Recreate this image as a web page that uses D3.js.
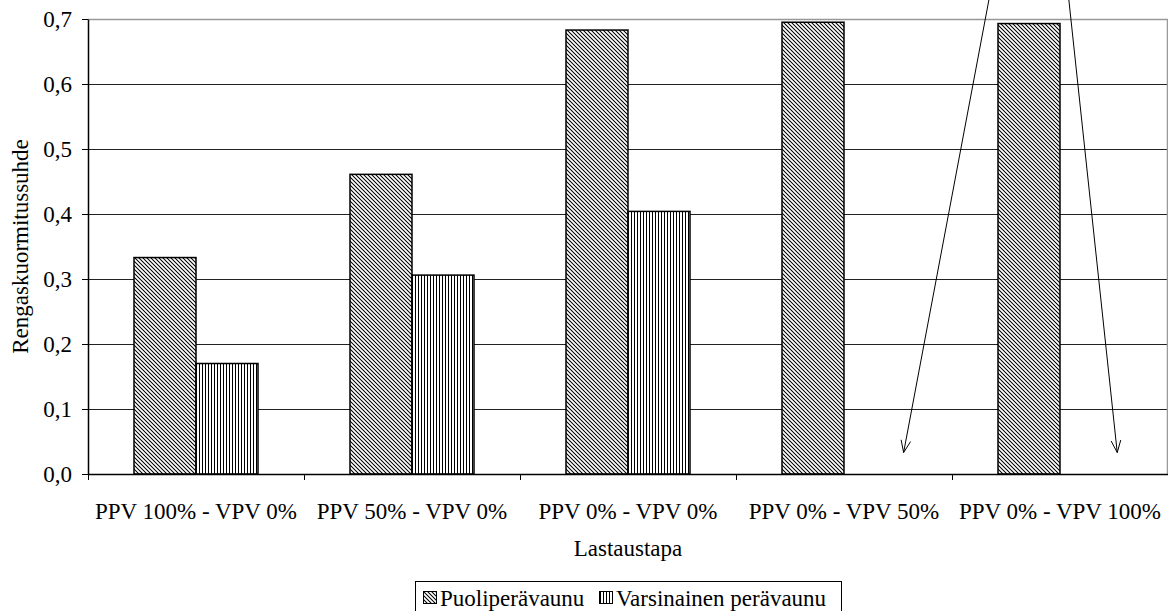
<!DOCTYPE html>
<html>
<head>
<meta charset="utf-8">
<script src="https://cdn.jsdelivr.net/npm/d3@7"></script>
<style>
	body { margin: 0; background: white; }
	svg { display: block; }
	text { font-family: 'Liberation Serif', 'Times New Roman', serif; fill: black; }
</style>
</head>
<body>
<script>
// chart data
var categories = ['PPV 100% - VPV 0%', 'PPV 50% - VPV 0%', 'PPV 0% - VPV 0%', 'PPV 0% - VPV 50%', 'PPV 0% - VPV 100%']
var seriesNames = ['Puoliperävaunu', 'Varsinainen perävaunu']
var puoliValues = [0.333, 0.461, 0.683, 0.695, 0.693]
var varsinainenValues = [0.170, 0.306, 0.404, null, null]
var yTicks = [0, 0.1, 0.2, 0.3, 0.4, 0.5, 0.6, 0.7]

// arrows pointing at the missing bars, in data units (category position, value)
var arrowStart = [4.407, 1.146]
var arrowTips = [[3.776, 0.033], [4.765, 0.033]]

var width = 1168
var height = 611
var margin = {top: 19, right: 0, bottom: 137, left: 88}
var plotW = width - margin.left - margin.right
var plotH = height - margin.top - margin.bottom
var fontSize = '23px'

var svg = d3.select('body')
	.append('svg')
		.attr('width', width)
		.attr('height', height)

// patterns for the two series
var defs = svg.append('defs')

var diag = defs.append('pattern')
	.attr('id', 'pat_diag')
	.attr('patternUnits', 'userSpaceOnUse')
	.attr('width', 4)
	.attr('height', 4)
diag.append('rect').attr('width', 4).attr('height', 4).attr('fill', 'white')
diag.append('path')
	.attr('d', 'M-1,-1 L5,5 M3,-1 L5,1 M-1,3 L1,5')
	.attr('stroke', 'black')
	.attr('stroke-width', 1.05)

var vert = defs.append('pattern')
	.attr('id', 'pat_vert')
	.attr('patternUnits', 'userSpaceOnUse')
	.attr('width', 3)
	.attr('height', 3)
vert.append('rect').attr('width', 3).attr('height', 3).attr('fill', 'white')
vert.append('rect').attr('x', 0).attr('width', 1).attr('height', 3).attr('fill', 'black')

var fills = ['url(#pat_diag)', 'url(#pat_vert)']

var g = svg.append('g')
	.attr('transform', 'translate(' + margin.left + ',' + margin.top + ')')

// scales
var x0 = d3.scaleBand()
	.domain(categories)
	.range([0, plotW])
	.paddingInner(0)
	.paddingOuter(0)

var x1 = d3.scaleBand()
	.domain(seriesNames)
	.range([46, x0.bandwidth() - 46])

var y = d3.scaleLinear()
	.domain([0, 0.7])
	.range([plotH, 0])

// continuous x for annotations
var xc = d3.scaleLinear()
	.domain([0, categories.length])
	.range([0, plotW])

var fmt = function(v) { return d3.format('.1f')(v).replace('.', ',') }

// gridlines
g.selectAll('.grid')
		.data(yTicks.filter(function(t) { return t > 0 && t < 0.7 }))
	.enter().append('line')
		.attr('x1', 0)
		.attr('x2', plotW)
		.attr('y1', function(d) { return Math.round(y(d)) + 0.5 })
		.attr('y2', function(d) { return Math.round(y(d)) + 0.5 })
		.attr('stroke', '#222')
		.attr('stroke-width', 1)

// plot area border (top and right in gray)
g.append('path')
	.attr('d', 'M0,' + (Math.round(y(0.7)) + 0.5) + ' H' + (plotW - 0.5) + ' V' + plotH)
	.attr('fill', 'none')
	.attr('stroke', '#999')
	.attr('stroke-width', 1.5)

// bars
var series = [puoliValues, varsinainenValues]
series.forEach(function(vals, si) {
	g.selectAll('.bar' + si)
			.data(categories.map(function(c, i) { return {cat: c, v: vals[i]} }).filter(function(d) { return d.v != null }))
		.enter().append('rect')
			.attr('x', function(d) { return x0(d.cat) + x1(seriesNames[si]) })
			.attr('y', function(d) { return y(d.v) })
			.attr('width', x1.bandwidth())
			.attr('height', function(d) { return plotH - y(d.v) })
			.attr('fill', fills[si])
			.attr('stroke', 'black')
			.attr('stroke-width', 1.5)
})

// y axis
var yAxis = g.append('g')
	.call(d3.axisLeft(y).tickValues(yTicks).tickFormat(fmt).tickSize(6).tickSizeOuter(0))
yAxis.select('.domain').attr('stroke', 'black').attr('stroke-width', 1.5)
yAxis.selectAll('.tick line').attr('stroke', 'black')
yAxis.selectAll('.tick text')
	.attr('x', -16)
	.style('font-family', "'Liberation Serif', serif")
	.style('font-size', fontSize)

// x axis
var xAxis = g.append('g')
	.attr('transform', 'translate(0,' + plotH + ')')
	.call(d3.axisBottom(x0).tickSize(0).tickSizeOuter(0))
xAxis.select('.domain').attr('stroke', 'black').attr('stroke-width', 1.5)
xAxis.selectAll('.tick text')
	.attr('y', 29)
	.style('font-family', "'Liberation Serif', serif")
	.style('font-size', fontSize)

// tick marks between categories
g.selectAll('.xtick')
		.data(d3.range(categories.length))
	.enter().append('line')
		.attr('x1', function(i) { return Math.round(xc(i)) + 0.5 })
		.attr('x2', function(i) { return Math.round(xc(i)) + 0.5 })
		.attr('y1', plotH)
		.attr('y2', plotH + 6)
		.attr('stroke', 'black')

// axis titles
svg.append('text')
	.attr('x', margin.left + plotW / 2)
	.attr('y', 556)
	.attr('text-anchor', 'middle')
	.style('font-size', fontSize)
	.text('Lastaustapa')

svg.append('text')
	.attr('transform', 'translate(28,' + (margin.top + plotH / 2) + ') rotate(-90)')
	.attr('text-anchor', 'middle')
	.style('font-size', fontSize)
	.text('Rengaskuormitussuhde')

// annotation arrows
arrowTips.forEach(function(t) {
	var sx = margin.left + xc(arrowStart[0])
	var sy = margin.top + y(arrowStart[1])
	var tx = margin.left + xc(t[0])
	var ty = margin.top + y(t[1])
	var ang = Math.atan2(ty - sy, tx - sx)
	var len = 13
	var spread = 0.38
	svg.append('line')
		.attr('x1', sx).attr('y1', sy)
		.attr('x2', tx).attr('y2', ty)
		.attr('stroke', 'black')
		.attr('stroke-width', 1)
	svg.append('path')
		.attr('d', 'M' + (tx - len * Math.cos(ang - spread)) + ',' + (ty - len * Math.sin(ang - spread)) +
			' L' + tx + ',' + ty +
			' L' + (tx - len * Math.cos(ang + spread)) + ',' + (ty - len * Math.sin(ang + spread)))
		.attr('fill', 'none')
		.attr('stroke', 'black')
		.attr('stroke-width', 1)
})

// legend
var legend = svg.append('g')
legend.append('rect')
	.attr('x', 415.5)
	.attr('y', 581.5)
	.attr('width', 426)
	.attr('height', 40)
	.attr('fill', 'white')
	.attr('stroke', 'black')
	.attr('stroke-width', 1)

var legendX = [423, 599]
seriesNames.forEach(function(name, i) {
	legend.append('rect')
		.attr('x', legendX[i] + 0.5)
		.attr('y', 591.5)
		.attr('width', 13)
		.attr('height', 12)
		.attr('fill', fills[i])
		.attr('stroke', 'black')
		.attr('stroke-width', 1)
	legend.append('text')
		.attr('x', legendX[i] + 17)
		.attr('y', 606)
		.style('font-size', fontSize)
		.text(name)
})
</script>
</body>
</html>
